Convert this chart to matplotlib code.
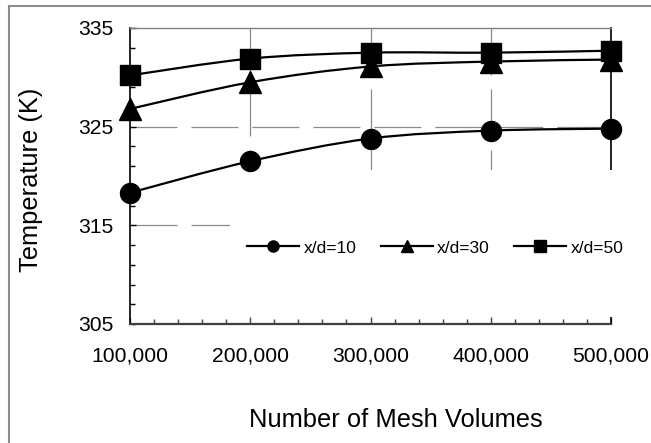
import numpy as np
import matplotlib
matplotlib.use("Agg")
import matplotlib.pyplot as plt
from matplotlib.lines import Line2D
from matplotlib.path import Path
from matplotlib.patches import PathPatch, Rectangle
from matplotlib.ticker import MultipleLocator, FuncFormatter

plt.rcParams['font.family'] = ['Liberation Sans', 'DejaVu Sans']
plt.rcParams['lines.scale_dashes'] = False

# Mesh study data
mesh_volumes = [100000, 200000, 300000, 400000, 500000]
temp_xd10 = [318.3, 321.5, 323.8, 324.6, 324.8]
temp_xd30 = [326.8, 329.5, 331.1, 331.6, 331.8]
temp_xd50 = [330.2, 331.9, 332.5, 332.5, 332.7]
series_labels = ['x/d=10', 'x/d=30', 'x/d=50']
series_markers = ['o', '^', 's']
series_msize = [14.4, 15.5, 13.7]
legend_msize = [8, 9, 8]

fig = plt.figure(figsize=(6.51, 4.43), dpi=100)
ax = fig.add_axes([130 / 651, 1 - 324 / 443, 481 / 651, 296 / 443])

ax.set_xlim(100000, 500000)
ax.set_ylim(305, 335)


def smooth_path(xs, ys):
    # bezier segments in the style of a spreadsheet "smoothed line"
    pts = np.column_stack([xs, ys]).astype(float)
    n = len(pts)
    verts = [pts[0]]
    codes = [Path.MOVETO]
    for i in range(n - 1):
        p0 = pts[max(i - 1, 0)]
        p1 = pts[i]
        p2 = pts[i + 1]
        p3 = pts[min(i + 2, n - 1)]
        c1 = p1 + (p2 - p0) / 6.0
        c2 = p2 - (p3 - p1) / 6.0
        verts += [c1, c2, p2]
        codes += [Path.CURVE4] * 3
    return Path(verts, codes)


grid_dash = (0, (33.8, 10.1))
for xv in [200000, 300000, 400000]:
    ax.axvline(xv, ymin=1, ymax=0, color='#8a8a8a', lw=0.9, linestyle=grid_dash, zorder=1)
for yv in [315, 325]:
    ax.axhline(yv, xmin=0, xmax=1, color='#8a8a8a', lw=0.9, linestyle=grid_dash, zorder=1)

for ys, mk, ms in zip([temp_xd10, temp_xd30, temp_xd50], series_markers, series_msize):
    ax.add_patch(PathPatch(smooth_path(mesh_volumes, ys), fill=False, edgecolor='black',
                           lw=1.6, zorder=3))
    ax.plot(mesh_volumes, ys, linestyle='none', marker=mk, markersize=ms,
            color='black', zorder=4, clip_on=False)

# white block behind the legend hides the lower grid
ax.add_patch(Rectangle((0.208, 0.024), 0.8, 0.496, transform=ax.transAxes,
                       facecolor='white', edgecolor='none', zorder=2.6, clip_on=False))

handles = [Line2D([], [], color='black', lw=1.6, marker=mk, markersize=ms)
           for mk, ms in zip(series_markers, legend_msize)]
ax.legend(handles, series_labels, loc='center', bbox_to_anchor=(0.635, 0.257),
          ncol=3, frameon=False, fontsize=12.5, handlelength=3.0, handletextpad=0.25,
          columnspacing=1.4, borderpad=0, borderaxespad=0)

# axes styling
ax.spines['left'].set_color('black')
ax.spines['left'].set_linewidth(1.2)
ax.spines['bottom'].set_color('#404040')
ax.spines['bottom'].set_linewidth(1.6)
ax.spines['top'].set_color('#808080')
ax.spines['top'].set_linewidth(1.0)
ax.spines['right'].set_color('black')
ax.spines['right'].set_linewidth(1.2)

ax.yaxis.set_major_locator(MultipleLocator(10, offset=5))
ax.yaxis.set_minor_locator(MultipleLocator(2, offset=1))
ax.xaxis.set_major_locator(MultipleLocator(100000))
ax.xaxis.set_minor_locator(MultipleLocator(20000))
ax.xaxis.set_major_formatter(FuncFormatter(lambda v, p: f'{int(v):,}'))

ax.tick_params(axis='y', which='both', direction='in', left=True, right=False,
               color='black', width=1.0, labelsize=15.2, pad=12)
ax.tick_params(axis='y', which='major', length=4.5)
ax.tick_params(axis='y', which='minor', length=3.5)
ax.tick_params(axis='x', which='both', direction='in', top=False, bottom=True,
               color='#404040', width=1.0, labelsize=15.2, pad=16)
ax.tick_params(axis='x', which='major', length=4.5)
ax.tick_params(axis='x', which='minor', length=3.5)

fig.text(31 / 651, 1 - 180 / 443, 'Temperature (K)', rotation=90, ha='center',
         va='center', fontsize=18.4)
fig.text(396 / 651, 1 - 427 / 443, 'Number of Mesh Volumes', ha='center',
         va='baseline', fontsize=18.4)

# outer frame (left and top edges)
fig.add_artist(Line2D([9 / 651, 9 / 651], [0, 1 - 6 / 443], transform=fig.transFigure,
                      color='#8c8c8c', lw=1.5))
fig.add_artist(Line2D([9 / 651, 1], [1 - 6 / 443, 1 - 6 / 443], transform=fig.transFigure,
                      color='#8c8c8c', lw=1.5))

fig.savefig('out.png', dpi=100)
